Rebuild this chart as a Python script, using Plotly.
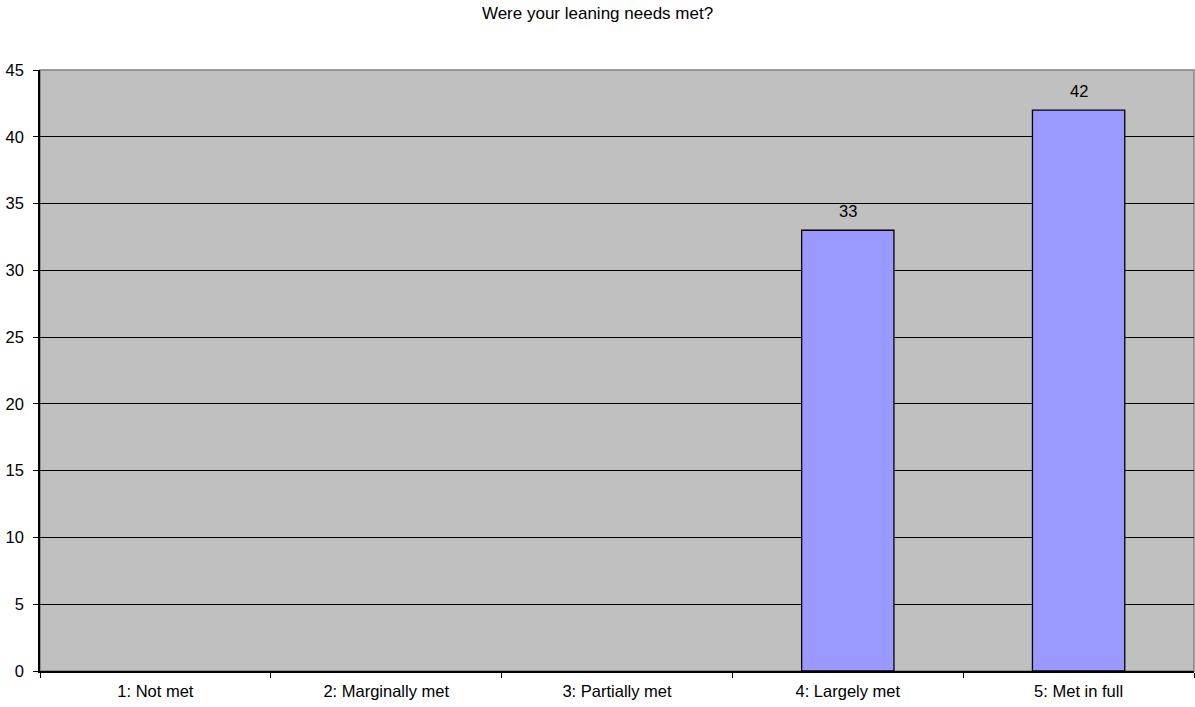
import plotly.graph_objects as go

categories = ["1: Not met", "2: Marginally met", "3: Partially met", "4: Largely met", "5: Met in full"]
values = [0, 0, 0, 33, 42]
labels = ["", "", "", "33", "42"]

FONT = "Arial, Liberation Sans, sans-serif"

fig = go.Figure(go.Bar(
    x=categories, y=values,
    marker=dict(color="#9999FF",
                line=dict(color="black", width=[1.3 if v > 0 else 0 for v in values])),
    width=0.4,
))

annotations = [
    dict(x=c, y=v, text=t, showarrow=False, xref="x", yref="y",
         yanchor="bottom", yshift=8, font=dict(family=FONT, size=16.5, color="black"))
    for c, v, t in zip(categories, values, labels) if t
]

fig.update_layout(
    width=1195, height=707,
    margin=dict(l=40, r=1, t=70, b=36),
    paper_bgcolor="white", plot_bgcolor="#C0C0C0",
    showlegend=False,
    font=dict(family=FONT, size=16.5, color="black"),
    title=dict(text="Were your leaning needs met?", x=0.5, xanchor="center",
               y=1 - 13 / 707, yanchor="middle", yref="container",
               font=dict(family=FONT, size=17, color="black")),
    shapes=[dict(type="rect", xref="paper", yref="paper", x0=0, x1=1, y0=0, y1=1,
                 line=dict(color="#808080", width=1.5), layer="below")],
    annotations=annotations,
)
fig.update_xaxes(
    type="category", showgrid=False, showline=True, linecolor="black", linewidth=1.5,
    ticks="outside", tickson="boundaries", ticklen=5, tickcolor="black",
    ticklabelstandoff=4,
    tickfont=dict(family=FONT, size=16.5, color="black"),
)
fig.update_yaxes(
    range=[0, 45], dtick=5, showgrid=True, gridcolor="black", gridwidth=1,
    showline=True, linecolor="black", linewidth=1.5, zeroline=False,
    ticks="outside", ticklen=5, tickcolor="black",
    ticklabelstandoff=6,
    tickfont=dict(family=FONT, size=16.5, color="black"),
)

fig.write_html("out.html")
